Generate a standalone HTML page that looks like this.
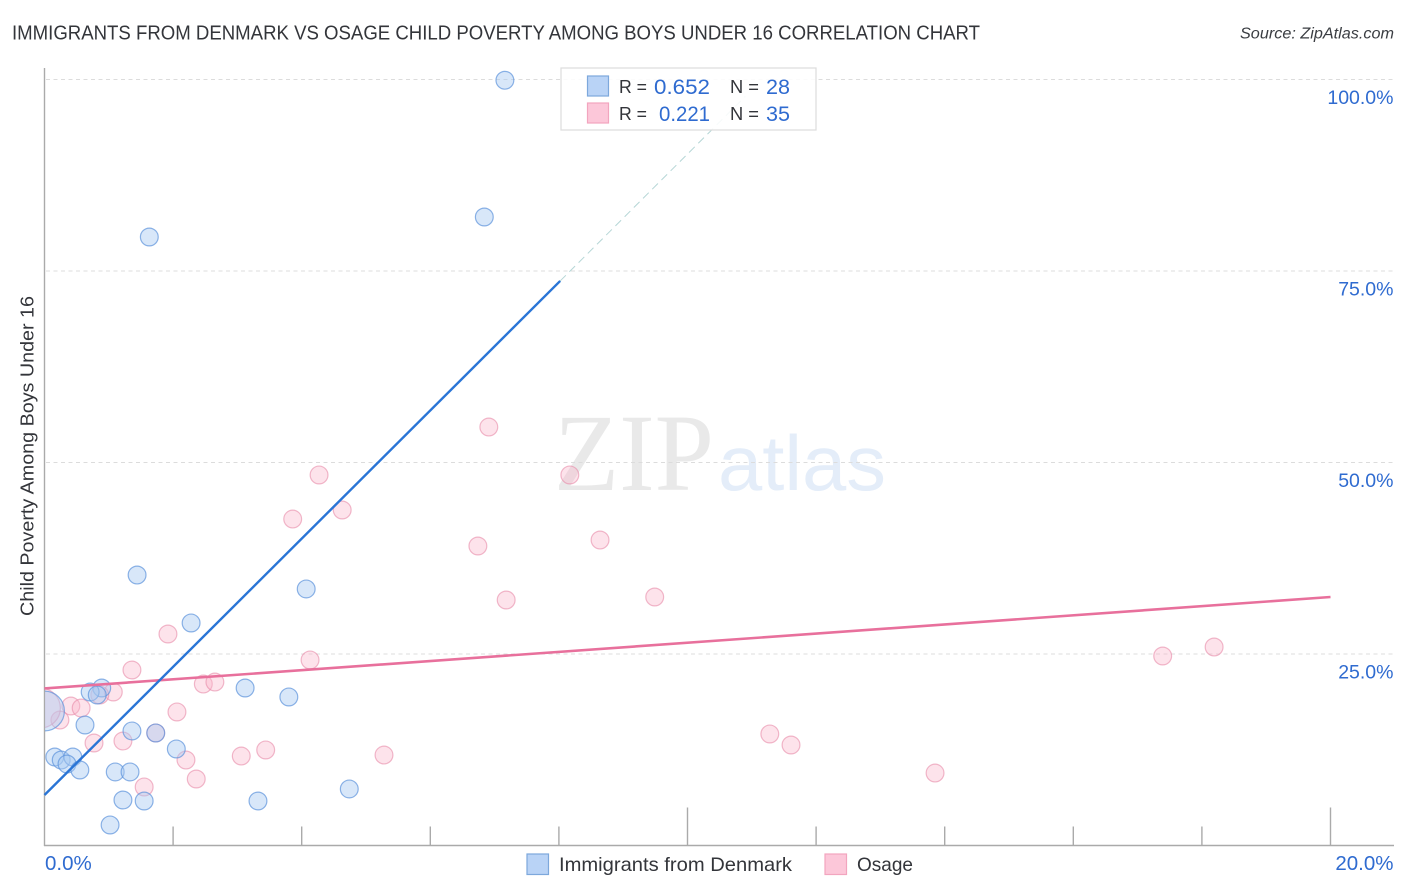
<!DOCTYPE html>
<html lang="en">
<head>
<meta charset="utf-8">
<title>Immigrants from Denmark vs Osage Child Poverty Correlation Chart</title>
<style>
html,body{margin:0;padding:0;background:#fff;width:1406px;height:892px;overflow:hidden}
svg{display:block;font-family:"Liberation Sans",sans-serif}
</style>
</head>
<body>
<svg id="chart" width="1406" height="892" viewBox="0 0 1406 892" xmlns="http://www.w3.org/2000/svg">
  <defs>
    <clipPath id="plot-clip"><rect x="45" y="60" width="1350" height="785"></rect></clipPath>
  </defs>
  <rect x="0" y="0" width="1406" height="892" fill="#fff"></rect>
  <text x="12" y="39.5" font-size="20" fill="#33353a" textLength="968" lengthAdjust="spacingAndGlyphs">IMMIGRANTS FROM DENMARK VS OSAGE CHILD POVERTY AMONG BOYS UNDER 16 CORRELATION CHART</text>
  <text x="1394" y="38.5" font-size="15.5" font-style="italic" fill="#3a3d42" text-anchor="end" textLength="154" lengthAdjust="spacingAndGlyphs">Source: ZipAtlas.com</text>

  <g>
    <text x="554" y="490" font-family="'Liberation Serif',serif" font-size="110" fill="#e9e9e9" textLength="160" lengthAdjust="spacingAndGlyphs">ZIP</text>
    <text x="718" y="490" font-size="78" fill="#e4edf9" textLength="168" lengthAdjust="spacingAndGlyphs">atlas</text>
  </g>

  <g id="grid"></g>
  <g id="axes">
    <line x1="44.5" y1="68" x2="44.5" y2="846" stroke="#aaaaaa" stroke-width="1.4"></line>
    <line x1="44" y1="845.5" x2="1394" y2="845.5" stroke="#aaaaaa" stroke-width="1.4"></line>
  </g>
  <g id="x-ticks"></g>
  <g id="y-labels"></g>
  <g id="x-labels"></g>
  <g id="points-pink" clip-path="url(#plot-clip)"></g>
  <g id="points-blue" clip-path="url(#plot-clip)"></g>
  <g id="trends"></g>

  <text transform="translate(33.5,456) rotate(-90)" font-size="18.6" fill="#33353a" text-anchor="middle" textLength="320" lengthAdjust="spacingAndGlyphs">Child Poverty Among Boys Under 16</text>

  <g>
    <rect x="561" y="68" width="255" height="62" fill="#fff" fill-opacity="0.88" stroke="#dcdcdc" stroke-width="1.2"></rect>
    <rect x="587.5" y="76" width="21" height="20" fill="#b9d3f6" stroke="#7da8dc" stroke-width="1.2"></rect>
    <rect x="587.5" y="103" width="21" height="20" fill="#fcc7d9" stroke="#f2a5bf" stroke-width="1.2"></rect>
    <g font-size="20">
      <text x="619" y="93" fill="#33353a" font-size="18.5" textLength="28" lengthAdjust="spacingAndGlyphs">R =</text>
      <text x="654" y="94" fill="#2f6bd0" font-size="21" textLength="56" lengthAdjust="spacingAndGlyphs">0.652</text>
      <text x="730" y="93" fill="#33353a" font-size="18.5" textLength="29" lengthAdjust="spacingAndGlyphs">N =</text>
      <text x="766" y="94" fill="#2f6bd0" font-size="21" textLength="24" lengthAdjust="spacingAndGlyphs">28</text>
      <text x="619" y="120" fill="#33353a" font-size="18.5" textLength="28" lengthAdjust="spacingAndGlyphs">R =</text>
      <text x="659" y="121" fill="#2f6bd0" font-size="21" textLength="51" lengthAdjust="spacingAndGlyphs">0.221</text>
      <text x="730" y="120" fill="#33353a" font-size="18.5" textLength="29" lengthAdjust="spacingAndGlyphs">N =</text>
      <text x="766" y="121" fill="#2f6bd0" font-size="21" textLength="24" lengthAdjust="spacingAndGlyphs">35</text>
    </g>
  </g>

  <g>
    <rect x="527" y="854" width="21.5" height="20.5" fill="#b9d3f6" stroke="#7da8dc" stroke-width="1.2"></rect>
    <text x="559" y="871" font-size="19.5" fill="#33353a" textLength="233" lengthAdjust="spacingAndGlyphs">Immigrants from Denmark</text>
    <rect x="825" y="854" width="21.5" height="20.5" fill="#fcc7d9" stroke="#f2a5bf" stroke-width="1.2"></rect>
    <text x="857" y="871" font-size="19.5" fill="#33353a" textLength="56" lengthAdjust="spacingAndGlyphs">Osage</text>
  </g>
</svg>
<script>
const denmarkX = [7.16,6.84,1.63,1.44,4.07,2.28,0.89,0.71,0.82,3.12,3.80,0.63,1.36,1.73,0.16,0.26,0.44,0.35,0.55,2.05,1.10,1.33,4.74,1.22,1.55,3.32,1.02,0.0];
const denmarkY = [99.9,82.05,79.44,35.31,33.49,29.05,20.56,20.04,19.65,20.56,19.39,15.73,14.95,14.69,11.55,11.16,11.55,10.64,9.86,12.6,9.6,9.6,7.38,5.94,5.81,5.81,2.68,17.56];
const denmarkWeight = [1,1,1,1,1,1,1,1,1,1,1,1,1,1,1,1,1,1,1,1,1,1,1,1,1,1,1,5];
const osageX = [6.91,4.27,8.17,4.63,3.86,6.74,8.64,7.18,9.49,1.92,4.13,1.36,2.47,2.65,1.07,0.86,0.41,0.57,0.24,0.0,2.06,1.22,0.77,1.73,2.2,3.06,3.44,5.28,1.55,2.36,11.28,11.61,13.85,17.39,18.19];
const osageY = [54.63,48.37,48.37,43.8,42.62,39.1,39.88,32.05,32.44,27.61,24.22,22.91,21.08,21.34,20.04,19.65,18.21,17.95,16.38,17.95,17.43,13.64,13.38,14.69,11.16,11.68,12.47,11.81,7.64,8.68,14.56,13.12,9.46,24.74,25.91];
const osageWeight = [1,1,1,1,1,1,1,1,1,1,1,1,1,1,1,1,1,1,1,5,1,1,1,1,1,1,1,1,1,1,1,1,1,1,1];
const denmarkTrendX = [0,8.02];
const denmarkTrendY = [6.59,73.7];
const denmarkDashX = [8.02,10.9];
const denmarkDashY = [73.7,97.8];
const osageTrendX = [0,20];
const osageTrendY = [20.5,32.44];
const gridValues = [100,75,50,25];
const yTickLabels = ["100.0%","75.0%","50.0%","25.0%"];
const xTickValues = [2,4,6,8,10,12,14,16,18,20];
const xMajorTicks = [10,20];
const xEndValues = [0,20];
const xEndLabels = ["0.0%","20.0%"];

const NS = "http://www.w3.org/2000/svg";
const sx = v => 44.5 + v * 64.3;
const sy = v => 845.5 - v * 7.66;
function make(tag, attrs, parentId) {
  const el = document.createElementNS(NS, tag);
  for (const k in attrs) el.setAttribute(k, attrs[k]);
  document.getElementById(parentId).appendChild(el);
  return el;
}
gridValues.forEach(function (v) {
  const el = make("line", {x1: 46, x2: 1394, y1: sy(v), y2: sy(v), stroke: "#dcdcdc", "stroke-width": 1, "stroke-dasharray": "4 3.5"}, "grid");
  
  
});
xTickValues.forEach(function (v) {
  const len = xMajorTicks.includes(v) ? 38 : 19;
  const el = make("line", {x1: sx(v), x2: sx(v), y1: 845.5, y2: 845.5 - len, stroke: "#aaaaaa", "stroke-width": 1.4}, "x-ticks");
  
  
});
gridValues.forEach(function (v, i) {
  const el = make("text", {x: 1393.5, y: sy(v) + 24.5, "text-anchor": "end", "font-size": 19.5, fill: "#2f6bd0"}, "y-labels");
  el.textContent = yTickLabels[i];
  
  
});
xEndValues.forEach(function (v, i) {
  const anchor = i === 0 ? "start" : "end";
  const px = i === 0 ? sx(v) + 0.5 : 1393.5;
  const el = make("text", {x: px, y: 870, "text-anchor": anchor, "font-size": 20.5, fill: "#2f6bd0"}, "x-labels");
  el.textContent = xEndLabels[i];
  
  
});
osageX.forEach(function (v, i) {
  const el = make("circle", {cx: sx(v) - (osageWeight[i] > 1 ? 4 : 0), cy: sy(osageY[i]), r: 8.9 * Math.sqrt(osageWeight[i]), fill: "#f9b6cb", "fill-opacity": 0.38, stroke: "#e88aa9", "stroke-opacity": 0.6, "stroke-width": 1.2}, "points-pink");
  
  
});
denmarkX.forEach(function (v, i) {
  const el = make("circle", {cx: sx(v), cy: sy(denmarkY[i]), r: 8.9 * Math.sqrt(denmarkWeight[i]), fill: "#a9c9f2", "fill-opacity": 0.45, stroke: "#5d93dc", "stroke-opacity": 0.7, "stroke-width": 1.2}, "points-blue");
  
  
});
const dash = make("line", {x1: sx(denmarkDashX[0]), y1: sy(denmarkDashY[0]), x2: sx(denmarkDashX[1]), y2: sy(denmarkDashY[1]), stroke: "#b5d6d6", "stroke-width": 1, "stroke-dasharray": "8 5"}, "trends");


const osageLine = make("line", {x1: sx(osageTrendX[0]), y1: sy(osageTrendY[0]), x2: sx(osageTrendX[1]), y2: sy(osageTrendY[1]), stroke: "#e8709c", "stroke-width": 2.6}, "trends");


const denmarkLine = make("line", {x1: sx(denmarkTrendX[0]), y1: sy(denmarkTrendY[0]), x2: sx(denmarkTrendX[1]), y2: sy(denmarkTrendY[1]), stroke: "#2a75d6", "stroke-width": 2.4}, "trends");


</script>
</body>
</html>
